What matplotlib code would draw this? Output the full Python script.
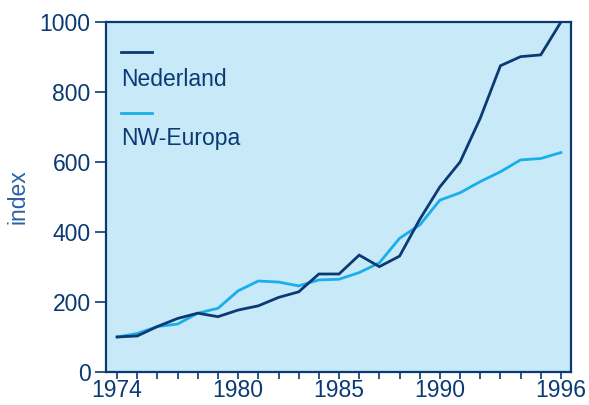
import matplotlib
matplotlib.use("Agg")
import matplotlib.pyplot as plt
from matplotlib.ticker import FixedLocator, MultipleLocator

years = list(range(1974, 1997))
nederland = [100, 103, 130, 153, 168, 158, 177, 189, 213, 229, 280, 280,
             334, 301, 331, 436, 529, 600, 725, 875, 901, 906, 1000]
nw_europa = [100, 110, 130, 137, 168, 182, 232, 260, 257, 246, 263, 265,
             284, 312, 382, 420, 491, 512, 544, 572, 606, 610, 627]
xtick_labels = [1974, 1980, 1985, 1990, 1996]
yticks = [0, 200, 400, 600, 800, 1000]

navy = "#0b3a73"
light = "#1aaeea"
bg = "#c7e9f8"
text_col = "#0b3a73"
fs = 16.5

plt.rcParams['font.family'] = ['Liberation Sans', 'DejaVu Sans']

fig = plt.figure(figsize=(5.89, 4.05), dpi=100)
ax = fig.add_axes([0.180, 0.0815, 0.7895, 0.8642])
ax.set_facecolor(bg)

ax.plot(years, nw_europa, color=light, lw=2.0, solid_joinstyle='miter', zorder=3)
ax.plot(years, nederland, color=navy, lw=2.0, solid_joinstyle='miter', zorder=4)

ax.set_xlim(1973.45, 1996.5)
ax.set_ylim(0, 1000)
ax.xaxis.set_major_locator(FixedLocator(xtick_labels))
ax.xaxis.set_minor_locator(MultipleLocator(1))
ax.set_yticks(yticks)

for s in ax.spines.values():
    s.set_color(navy)
    s.set_linewidth(1.6)

ax.tick_params(axis='y', direction='out', length=8, width=1.2, color=navy,
               labelsize=fs, labelcolor=text_col, pad=3)
ax.tick_params(axis='x', which='both', direction='out', length=5, width=1.2,
               color=navy, labelsize=fs, labelcolor=text_col, pad=0)

ax.set_ylabel("index", fontsize=fs, color="#2a62a6", labelpad=2)
ax.yaxis.set_label_coords(-0.165, 0.5)

# legend (manual, label below line)
ax.plot([0.0316, 0.098], [0.913, 0.913], transform=ax.transAxes, color=navy, lw=2.0)
ax.text(0.033, 0.837, "Nederland", transform=ax.transAxes, fontsize=fs,
        color=text_col, va='center', ha='left')
ax.plot([0.0316, 0.098], [0.739, 0.739], transform=ax.transAxes, color=light, lw=2.0)
ax.text(0.033, 0.666, "NW-Europa", transform=ax.transAxes, fontsize=fs,
        color=text_col, va='center', ha='left')

fig.savefig("out.png", dpi=100)
